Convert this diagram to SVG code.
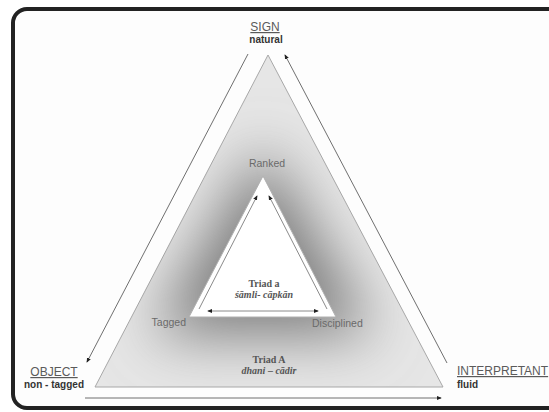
<svg xmlns="http://www.w3.org/2000/svg" width="549" height="412" viewBox="0 0 549 412">
<style>
.lbl{font-family:"Liberation Sans",Arial,sans-serif;font-size:12px;fill:#5a5a5a;text-decoration:underline}
.sub{font-family:"Liberation Sans",Arial,sans-serif;font-size:10px;font-weight:bold;fill:#333}
.vtx{font-family:"Liberation Sans",Arial,sans-serif;font-size:10.5px;fill:#6a6a6a}
.tri{font-family:"Liberation Serif","Times New Roman",serif;font-size:10px;font-weight:bold;fill:#555}
.tri-i{font-family:"Liberation Serif","Times New Roman",serif;font-size:10px;font-weight:bold;font-style:italic;fill:#555}
.arr{stroke:#6f6f6f;stroke-width:1;fill:none}
.arr-in{stroke:#8a8a8a;stroke-width:1;fill:none}
</style>
<defs>
<marker id="ah" viewBox="0 0 6 6" refX="5" refY="3" markerWidth="5" markerHeight="5" orient="auto-start-reverse">
<path d="M0,0.5 L6,3 L0,5.5 z" fill="#222"/>
</marker>
<clipPath id="outerClip"><polygon points="268,55 443,387 95,387"/></clipPath>
<filter id="blur" x="-60%" y="-60%" width="220%" height="220%"><feGaussianBlur stdDeviation="30"/></filter>
</defs>
<rect x="13" y="9" width="560" height="399" rx="14" fill="#fdfdfd" stroke="#222" stroke-width="4"/>
<g id="triadA">
<polygon points="268,55 443,387 95,387" fill="#e6e6e6" stroke="#a8a8a8" stroke-width="1"/>
<g clip-path="url(#outerClip)">
<polygon points="263,145 375,335 151,335" fill="#7c7c7c" filter="url(#blur)"/>
</g>
<text class="tri" x="269" y="363" text-anchor="middle">Triad A</text>
<text class="tri-i" x="269" y="374" text-anchor="middle">dhani – cādir</text>
</g>
<g id="triada">
<polygon points="263,176 336,317 189,317" fill="#fff" stroke="#b0b0b0" stroke-width="1"/>
<text class="tri" x="264" y="287" text-anchor="middle">Triad a</text>
<text class="tri-i" x="264" y="298" text-anchor="middle">śāmli- cāpkān</text>
</g>
<g id="connectors">
<line class="arr" x1="248" y1="54" x2="87" y2="362" marker-end="url(#ah)"/>
<line class="arr" x1="447" y1="363" x2="285" y2="55" marker-end="url(#ah)"/>
<line class="arr" x1="85" y1="398" x2="441" y2="398" marker-end="url(#ah)"/>
<line class="arr-in" x1="199" y1="309" x2="257" y2="196" marker-end="url(#ah)"/>
<line class="arr-in" x1="327" y1="309" x2="269" y2="196" marker-end="url(#ah)"/>
<line class="arr-in" x1="208" y1="311" x2="318" y2="311" marker-start="url(#ah)" marker-end="url(#ah)"/>
</g>
<g id="sign">
<text class="lbl" x="265" y="31" text-anchor="middle">SIGN</text>
<text class="sub" x="266" y="43" text-anchor="middle">natural</text>
</g>
<g id="object">
<text class="lbl" x="54" y="376" text-anchor="middle">OBJECT</text>
<text class="sub" x="54" y="388" text-anchor="middle">non - tagged</text>
</g>
<g id="interpretant">
<text class="lbl" x="457" y="375">INTERPRETANT</text>
<text class="sub" x="457" y="388">fluid</text>
</g>
<g id="ranked"><text class="vtx" x="267" y="167" text-anchor="middle">Ranked</text></g>
<g id="tagged"><text class="vtx" x="186" y="326" text-anchor="end">Tagged</text></g>
<g id="disciplined"><text class="vtx" x="312" y="327">Disciplined</text></g>
</svg>
